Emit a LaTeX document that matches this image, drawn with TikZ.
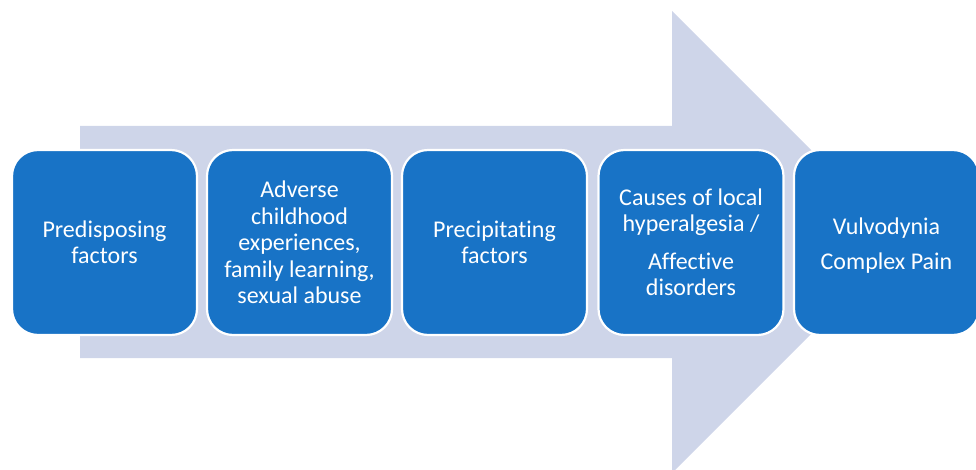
\documentclass[tikz,border=0pt]{standalone}
\usepackage{fontspec}
\setmainfont{Carlito}[RawFeature=-liga]
\definecolor{boxblue}{RGB}{24,115,198}
\definecolor{arrowgray}{RGB}{206,213,233}
\begin{document}
\begin{tikzpicture}[x=1pt,y=-1pt,
  stagebox/.style={draw=white,line width=2.2pt,fill=boxblue,rounded corners=26pt,
    minimum width=185pt,minimum height=185pt,inner sep=0pt,text=white},
  stagetext/.style={text=white,align=center,font=\fontsize{24}{26.5}\selectfont,inner sep=0pt}]
\useasboundingbox (0,0) rectangle (976,470);
\clip (0,0) rectangle (976,470);
\fill[arrowgray] (80,126) -- (672,126) -- (672,11) -- (903,242) -- (672,473) -- (672,358) -- (80,358) -- cycle;
\node[stagebox] (b1) at (104.5,242.5) {};
\node[stagebox] (b2) at (299.5,242.5) {};
\node[stagebox] (b3) at (494.5,242.5) {};
\node[stagebox] (b4) at (691,242.5) {};
\node[stagebox] (b5) at (886.5,242.5) {};
\node[stagetext] (t1) at (b1.center) {Predisposing\\factors};
\node[stagetext] (t2) at (b2.center) {Adverse\\childhood\\experiences,\\family learning,\\sexual abuse};
\node[stagetext] (t3) at (b3.center) {Precipitating\\factors};
\node[stagetext] (t4) at (b4.center) {Causes of local\\hyperalgesia /\\[11pt]Affective\\disorders};
\node[stagetext] (t5) at ([yshift=-3pt]b5.center) {Vulvodynia\\[9pt]Complex Pain};
\end{tikzpicture}
\end{document}
